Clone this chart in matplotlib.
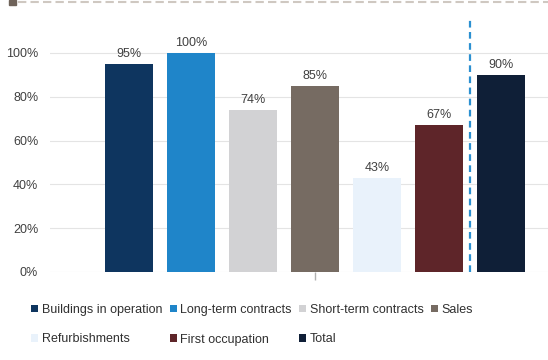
import matplotlib
matplotlib.use("Agg")
import matplotlib.pyplot as plt
from matplotlib.patches import Patch, Rectangle
from matplotlib.lines import Line2D
from matplotlib.ticker import PercentFormatter

plt.rcParams.update({
    "font.family": ["Liberation Sans", "DejaVu Sans"],
    "font.size": 9,
})

# ============== Data ================
categories = ["Buildings in operation", "Long-term contracts", "Short-term contracts",
              "Sales", "Refurbishments", "First occupation", "Total"]
values = [0.95, 1.00, 0.74, 0.85, 0.43, 0.67, 0.90]
labels = ["95%", "100%", "74%", "85%", "43%", "67%", "90%"]
colors = ["#0e355f", "#1f85c9", "#d2d2d4", "#766b62", "#e9f2fb", "#5e2529", "#0f1f37"]
y_ticks = [0, 0.2, 0.4, 0.6, 0.8, 1.0]

# ============== Figure ================
fig = plt.figure(figsize=(5.48, 3.6), dpi=100)
ax = fig.add_axes([50 / 548, 1 - 272 / 360, 1 - 50 / 548, 252 / 360])

x = list(range(len(categories)))
bars = ax.bar(x, values, width=0.78, color=colors, zorder=3)
for b, lab in zip(bars, labels):
    ax.annotate(lab, (b.get_x() + b.get_width() / 2, b.get_height()),
                xytext=(0, 3), textcoords="offset points",
                ha="center", va="bottom", color="#404040", fontsize=9)

# separator before total
ax.axvline(len(categories) - 1.5, color="#2b90d1", lw=1.6, ls=(0, (3, 2)), zorder=4)

ax.set_xlim(-1.274, 6.758)
ax.set_ylim(0, 1.15)
ax.set_yticks(y_ticks)
ax.yaxis.set_major_formatter(PercentFormatter(1.0, decimals=0))
ax.grid(axis="y", color="#e4e4e4", lw=0.8, zorder=0)
ax.set_xticks([3])
ax.set_xticklabels([""])
ax.tick_params(axis="x", length=6, color="#b0b0b0", width=1, pad=0)
ax.tick_params(axis="y", length=0, pad=8.5, colors="#404040", labelsize=9)
for s in ax.spines.values():
    s.set_visible(False)

# header decoration at very top
fig.add_artist(Line2D([18 / 548, 1], [1 - 2 / 360, 1 - 2 / 360], color="#cfc8c1",
                      lw=1.5, ls=(0, (4, 2)), transform=fig.transFigure))
fig.add_artist(Rectangle((9 / 548, 1 - 5 / 360), 7 / 548, 5 / 360, color="#6f635a",
                         transform=fig.transFigure))

# legend filled row by row (matplotlib fills by column)
order = [0, 4, 1, 5, 2, 6, 3]
handles = [Patch(facecolor=colors[i], edgecolor="none", label=categories[i]) for i in order]
fig.legend(handles=handles, ncol=4, loc="upper left", bbox_to_anchor=(31 / 548, 1 - 304 / 360),
           frameon=False, handlelength=0.55, handleheight=0.55, handletextpad=0.3,
           columnspacing=0.6, labelspacing=1.4, fontsize=9, borderaxespad=0,
           borderpad=0, labelcolor="#303030")

fig.savefig("out.png", dpi=100)
